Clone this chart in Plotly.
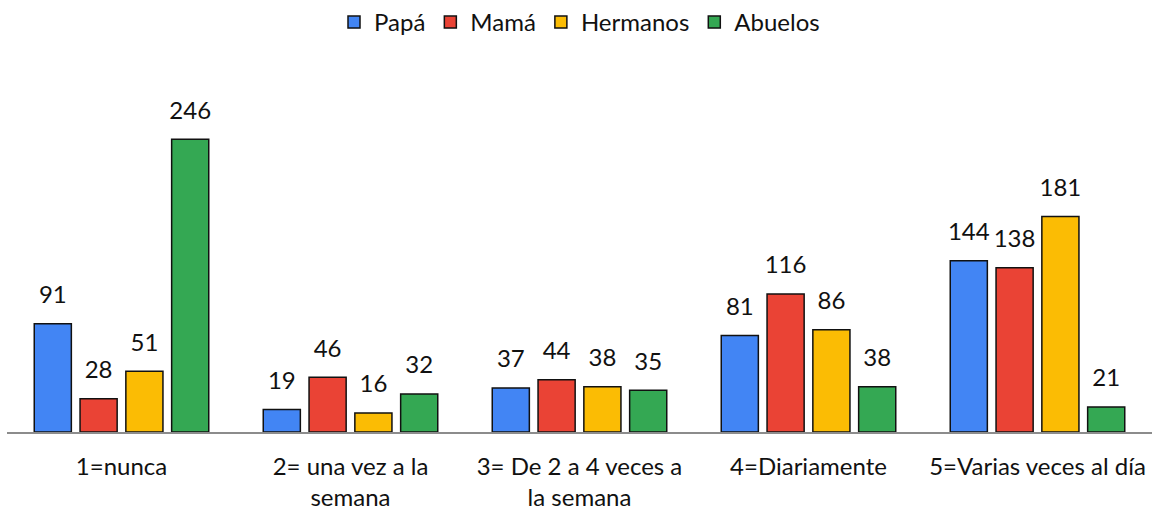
import plotly.graph_objects as go

categories = ["1=nunca", "2= una vez a la<br>semana", "3= De 2 a 4 veces a<br>la semana",
              "4=Diariamente", "5=Varias veces al día"]
series_names = ["Papá", "Mamá", "Hermanos", "Abuelos"]
papa = [91, 19, 37, 81, 144]
mama = [28, 46, 44, 116, 138]
hermanos = [51, 16, 38, 86, 181]
abuelos = [246, 32, 35, 38, 21]
colors = ["#4285F4", "#EA4335", "#FBBC04", "#34A853"]

values = [papa, mama, hermanos, abuelos]
FONT = "Lato"
FS = 24
slot = 0.2
bar_w = 0.162
xs = list(range(len(categories)))

fig = go.Figure()
for k, (name, vals, col) in enumerate(zip(series_names, values, colors)):
    off = (k - 1.5) * slot
    fig.add_trace(go.Bar(
        x=[x + off for x in xs], y=vals, name=name, width=bar_w,
        marker=dict(color=col, line=dict(color="#111111", width=1.5)),
        hoverinfo="skip",
    ))
for k, vals in enumerate(values):
    off = (k - 1.5) * slot
    fig.add_trace(go.Scatter(
        x=[x + off for x in xs], y=vals, mode="text+markers",
        marker=dict(size=22, color="rgba(0,0,0,0)"),
        text=[str(v) for v in vals], textposition="top center",
        textfont=dict(family=FONT, size=FS, color="#111111"),
        showlegend=False, hoverinfo="skip",
    ))

fig.update_layout(
    width=1156, height=510,
    margin=dict(l=7, r=4, t=75, b=78, autoexpand=False),
    paper_bgcolor="white", plot_bgcolor="white",
    font=dict(family=FONT, size=FS, color="#111111"),
    barmode="overlay",
    showlegend=True,
    legend=dict(orientation="h", x=0.5, xanchor="center", y=1.0, yref="container",
                yanchor="top", font=dict(family=FONT, size=FS, color="#111111"),
                traceorder="normal"),
    xaxis=dict(range=[-0.5, 4.5], tickvals=xs, ticktext=categories, automargin=False,
               showline=True, linecolor="#8c8c8c", linewidth=2,
               showgrid=False, zeroline=False, ticks="", ticklabelstandoff=12,
               tickfont=dict(family=FONT, size=FS, color="#111111")),
    yaxis=dict(range=[0, 300], visible=False, showgrid=False, zeroline=False,
               automargin=False),
)

fig.write_html("out.html", config={"displayModeBar": False},
               post_script="document.body.style.margin='0';document.body.style.padding='0';")
